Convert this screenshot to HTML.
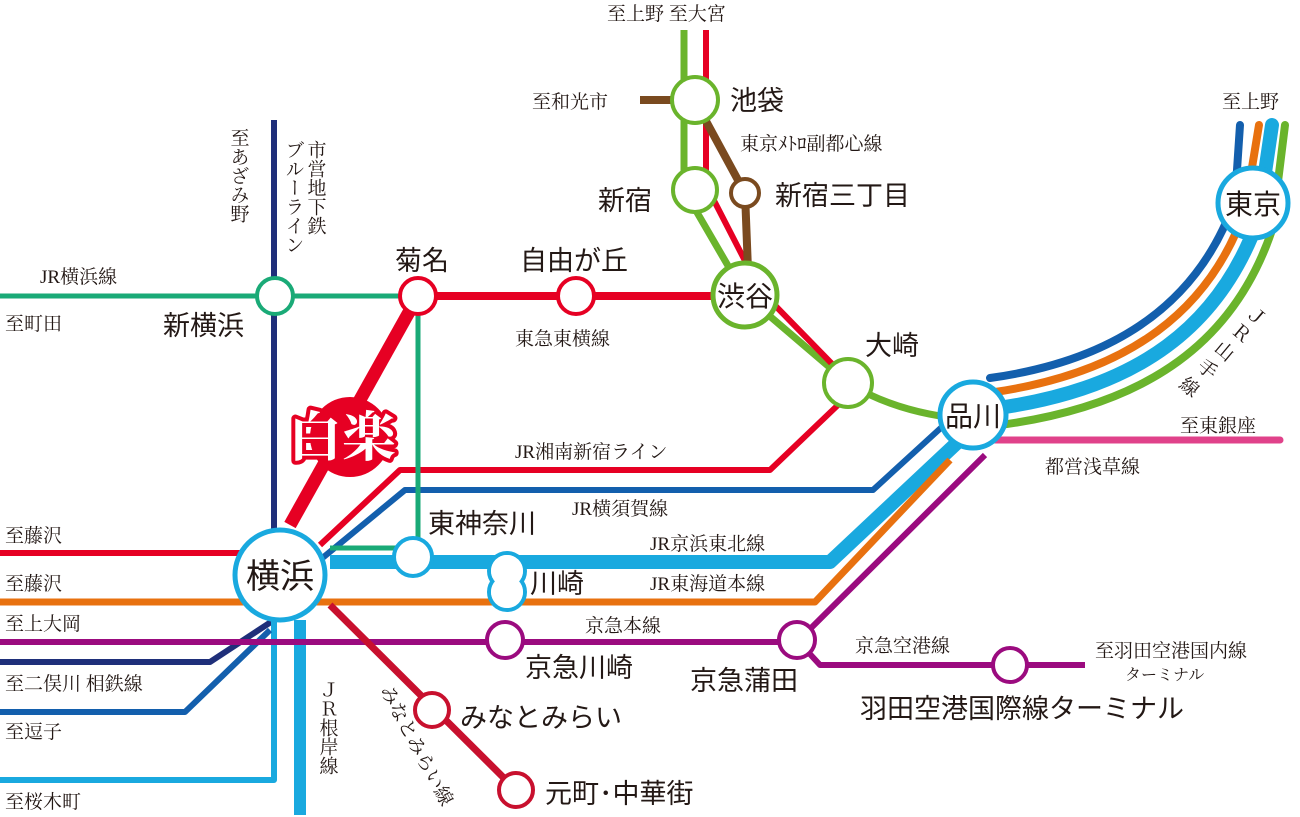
<!DOCTYPE html>
<html><head><meta charset="utf-8"><style>
html,body{margin:0;padding:0;background:#fff;}
svg{display:block;}
.s{font-family:"Liberation Sans","Noto Sans CJK JP",sans-serif;font-size:27px;fill:#231815;}
.m{font-family:"Liberation Serif","Noto Serif CJK SC",serif;font-size:19px;fill:#231815;}
</style></head><body>
<svg width="1300" height="817" viewBox="0 0 1300 817" xmlns="http://www.w3.org/2000/svg" fill="none" stroke-linejoin="round">
<path d="M990,378 C1120,360 1200,300 1235,200 L1240,125" stroke="#135fad" stroke-width="8" stroke-linecap="round"/>
<path d="M995,392 C1130,372 1210,310 1245,210 L1259,125" stroke="#e8710f" stroke-width="8" stroke-linecap="round"/>
<path d="M998,408 C1140,388 1220,325 1258,220 L1272,125" stroke="#19a9df" stroke-width="14" stroke-linecap="round"/>
<path d="M1000,425 C1150,405 1235,340 1272,230 L1285,125" stroke="#6ab42c" stroke-width="8" stroke-linecap="round"/>
<path d="M990,440 H1280" stroke="#e0428a" stroke-width="7" stroke-linecap="round"/>
<path d="M684,30 V190 L745,295 L848,383 Q900,415 975,420" stroke="#6ab42c" stroke-width="7"/>
<path d="M706,30 V185 L760,290 L838,370" stroke="#e60023" stroke-width="6"/>
<path d="M640,100 H680 M700,110 L745,193 L748,270" stroke="#7a4a1f" stroke-width="8"/>
<path d="M274,120 V620 L210,662 H0" stroke="#1f2f7a" stroke-width="6"/>
<path d="M274,600 V780 H0" stroke="#19a9df" stroke-width="6"/>
<path d="M0,712 H185 L270,630 M320,560 L405,490 H873 L955,415" stroke="#135fad" stroke-width="6"/>
<path d="M0,553 H240 M320,545 L400,470 H770 L838,405" stroke="#e60023" stroke-width="6"/>
<path d="M330,562 H830 L960,440" stroke="#19a9df" stroke-width="14"/>
<path d="M300,620 V815" stroke="#19a9df" stroke-width="12"/>
<path d="M0,602 H815 L950,460" stroke="#e8710f" stroke-width="7"/>
<path d="M0,642 H797 L985,455 M797,640 L820,665 H1085" stroke="#9b0b7f" stroke-width="6"/>
<path d="M0,296 H400 M418,296 V548 H330" stroke="#1aaa77" stroke-width="5"/>
<path d="M418,296 H720" stroke="#e60023" stroke-width="8"/>
<path d="M290,525 L418,296" stroke="#e60023" stroke-width="13"/>
<path d="M330,605 L516,790" stroke="#c8102e" stroke-width="7"/>
<circle cx="350" cy="437" r="40" fill="#e60023"/>
<text x="342" y="456" font-family="Liberation Serif,'Noto Serif CJK SC',serif" font-size="54" font-weight="bold" fill="#fff" stroke="#e60023" stroke-width="8" paint-order="stroke" text-anchor="middle">白楽</text>
<g fill="#fff" stroke-width="4">
<circle cx="280" cy="575" r="45" stroke="#19a9df" stroke-width="5"/>
<circle cx="973" cy="415" r="33" stroke="#19a9df" stroke-width="5"/>
<circle cx="1253" cy="203" r="35" stroke="#19a9df" stroke-width="5"/>
<circle cx="745" cy="295" r="32" stroke="#6ab42c" stroke-width="5"/>
<circle cx="695" cy="100" r="23" stroke="#6ab42c"/>
<circle cx="695" cy="190" r="22" stroke="#6ab42c"/>
<circle cx="848" cy="383" r="24" stroke="#6ab42c"/>
<circle cx="745" cy="193" r="14" stroke="#7a4a1f"/>
<circle cx="275" cy="296" r="18" stroke="#1aaa77"/>
<circle cx="418" cy="296" r="18" stroke="#e60023"/>
<circle cx="576" cy="296" r="18" stroke="#e60023"/>
<circle cx="413" cy="557" r="19" stroke="#19a9df"/>
<circle cx="507" cy="571" r="18" stroke="#19a9df"/>
<circle cx="507" cy="592" r="18" stroke="#19a9df"/>
<circle cx="505" cy="640" r="18" stroke="#9b0b7f"/>
<circle cx="797" cy="640" r="18" stroke="#9b0b7f"/>
<circle cx="1010" cy="665" r="17" stroke="#9b0b7f"/>
<circle cx="432" cy="710" r="17" stroke="#c8102e"/>
<circle cx="516" cy="790" r="17" stroke="#c8102e"/>
</g>
<circle cx="507" cy="571" r="16" fill="#fff"/>
<circle cx="507" cy="592" r="16" fill="#fff"/>
<g class="s" stroke="none">
<text x="280" y="588" text-anchor="middle" font-size="34">横浜</text>
<text x="973" y="426" text-anchor="middle" font-size="28">品川</text>
<text x="1253" y="214" text-anchor="middle" font-size="28">東京</text>
<text x="745" y="306" text-anchor="middle" font-size="28">渋谷</text>
<text x="730" y="110">池袋</text>
<text x="598" y="210">新宿</text>
<text x="775" y="205">新宿三丁目</text>
<text x="865" y="355">大崎</text>
<text x="163" y="335">新横浜</text>
<text x="395" y="270">菊名</text>
<text x="520" y="270">自由が丘</text>
<text x="428" y="533">東神奈川</text>
<text x="530" y="593">川崎</text>
<text x="525" y="677">京急川崎</text>
<text x="690" y="690">京急蒲田</text>
<text x="860" y="718">羽田空港国際線ターミナル</text>
<text x="460" y="727">みなとみらい</text>
<text x="545" y="803">元町･中華街</text>
</g>
<g class="m" stroke="none">
<text x="607" y="20">至上野 至大宮</text>
<text x="532" y="108">至和光市</text>
<text x="740" y="150">東京ﾒﾄﾛ副都心線</text>
<text x="1222" y="108">至上野</text>
<text x="1180" y="432">至東銀座</text>
<text x="1045" y="473">都営浅草線</text>
<text x="40" y="283">JR横浜線</text>
<text x="5" y="330">至町田</text>
<text x="515" y="345">東急東横線</text>
<text x="515" y="458">JR湘南新宿ライン</text>
<text x="572" y="515">JR横須賀線</text>
<text x="650" y="550">JR京浜東北線</text>
<text x="650" y="590">JR東海道本線</text>
<text x="585" y="632">京急本線</text>
<text x="855" y="652">京急空港線</text>
<text x="1095" y="657">至羽田空港国内線</text>
<text x="1125" y="680" font-size="16">ターミナル</text>
<text x="5" y="542">至藤沢</text>
<text x="5" y="590">至藤沢</text>
<text x="5" y="630">至上大岡</text>
<text x="5" y="690">至二俣川 相鉄線</text>
<text x="5" y="738">至逗子</text>
<text x="5" y="808">至桜木町</text>
<text x="238" y="128" writing-mode="tb">至あざみ野</text>
<text x="315" y="140" writing-mode="tb">市営地下鉄</text>
<text x="293" y="140" writing-mode="tb">ブルーライン</text>
<text x="327" y="680" writing-mode="tb">ＪＲ根岸線</text>
<text x="1245" y="315" transform="rotate(40 1245 315)">Ｊ</text>
<text x="1230" y="332" transform="rotate(40 1230 332)">Ｒ</text>
<text x="1213" y="350" transform="rotate(40 1213 350)">山</text>
<text x="1196" y="368" transform="rotate(40 1196 368)">手</text>
<text x="1178" y="386" transform="rotate(40 1178 386)">線</text>
<text x="380" y="690" transform="rotate(62 380 690)">みなとみらい線</text>
</g>
</svg>
</body></html>
